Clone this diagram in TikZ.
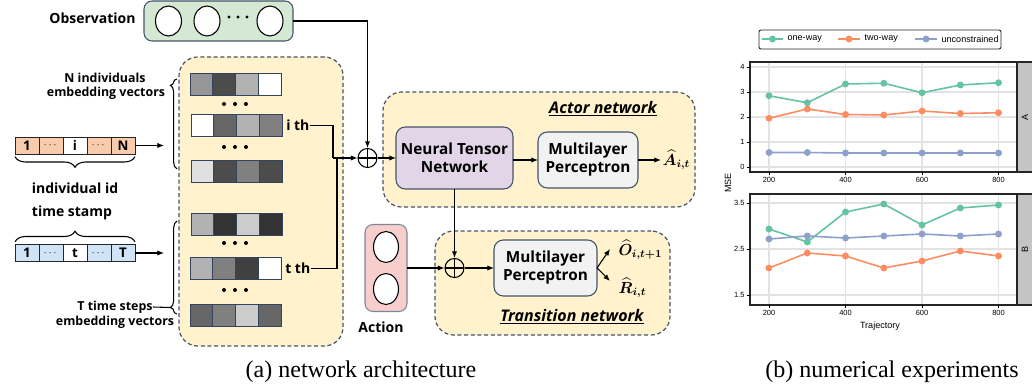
\documentclass[tikz,border=0pt]{standalone}
\usepackage{fontspec}
\usepackage{amsmath}
\usepackage{bm}
\setmainfont{Liberation Serif}
\setsansfont{Open Sans}
\newfontfamily\plotfont{Liberation Sans}
\usetikzlibrary{shapes.geometric,decorations.pathreplacing,arrows.meta}
\definecolor{yel}{HTML}{FFF2CC}
\definecolor{dashc}{HTML}{44546A}
\definecolor{obsg}{HTML}{D5E8D4}
\definecolor{purp}{HTML}{E1D5E7}
\definecolor{mlpg}{HTML}{F2F2F2}
\definecolor{pinkc}{HTML}{F8CECC}
\definecolor{idor}{HTML}{F8CBAD}
\definecolor{tsblue}{HTML}{D0E4F7}
\definecolor{cellc}{HTML}{34435E}
\definecolor{gC}{HTML}{66C2A5}
\definecolor{oC}{HTML}{FC8D62}
\definecolor{bC}{HTML}{8DA0CB}
\definecolor{gridc}{HTML}{E3E3E3}
\definecolor{stripc}{HTML}{C4C4C4}
\newcommand{\embrow}[4]{\foreach \c [count=\k] in {#4}{\node[cell, fill=\c, anchor=north west] (#1-\k) at ({#2+(\k-1)*22.75},#3) {};}}
\newcommand{\smdots}{{\fontsize{7}{8}\selectfont\mdseries $\cdots$}}
\begin{document}
\begin{tikzpicture}[x=0.75pt,y=-0.75pt, font=\sffamily\bfseries,
  px/.style 2 args={minimum width=#1*0.75pt, minimum height=#2*0.75pt, inner sep=0pt, outer sep=0pt},
  dbox/.style={draw=dashc, dash pattern=on 3pt off 2pt, line width=0.9pt, fill=yel, rounded corners=14pt},
  sbox/.style={draw=dashc, line width=0.8pt, rounded corners=7pt, align=center, font=\sffamily\bfseries\fontsize{11.5}{13.5}\selectfont},
  ell/.style={ellipse, draw=black, fill=white, line width=0.8pt},
  cell/.style={draw=cellc, line width=0.6pt, px={22.75}{22.5}},
  idc/.style={draw=black!85, line width=0.7pt, px={24}{17}, font=\sffamily\bfseries\fontsize{10}{12}\selectfont},
  arr/.style={-{Latex[length=5pt,width=4pt]}, line width=0.8pt},
  ln/.style={line width=0.8pt},
  lab/.style={font=\sffamily\bfseries\fontsize{10.5}{12}\selectfont, inner sep=0pt},
  slab/.style={font=\sffamily\bfseries\fontsize{9.3}{11}\selectfont, inner sep=0pt, align=center},
  netlab/.style={font=\sffamily\bfseries\itshape\fontsize{12}{14}\selectfont, inner sep=1pt},
  oplus/.style={circle, draw, line width=0.8pt, minimum size=19*0.75pt, inner sep=0pt,
    path picture={\draw[line width=0.8pt] (path picture bounding box.north) -- (path picture bounding box.south) (path picture bounding box.west) -- (path picture bounding box.east);}},
  gridl/.style={draw=gridc, line width=0.8pt},
  tk/.style={font=\plotfont\mdseries\fontsize{5.6}{6.5}\selectfont, inner sep=1pt},
  pl/.style={font=\plotfont\mdseries\fontsize{6.8}{8}\selectfont, inner sep=1pt},
  serl/.style={line width=1.2pt}
]
\useasboundingbox (0,0) rectangle (1032,388);

% ---------- containers ----------
\node[dbox, px={164}{289}] (emb) at (261,201.5) {};
\node[dbox, px={312}{115}] (actor) at (539,149.5) {};
\node[dbox, px={235}{104}] (trans) at (552.5,283) {};
\node[draw=dashc, line width=0.8pt, fill=obsg, rounded corners=6pt, px={149}{40}] (obs) at (218.5,21) {};
\node[draw=dashc!70, line width=0.8pt, fill=pinkc, rounded corners=6pt, px={42}{87}] (action) at (386,268) {};

% ---------- observation ----------
\node[lab] (obslab) at (92.5,18) {Observation};
\node[ell, px={26}{30}] (o1) at (168.5,21) {};
\node[ell, px={26}{30}] (o2) at (207,21) {};
\node[ell, px={26}{30}] (o3) at (270,21) {};
\foreach \dx in {-9,0,9} \fill ({238+\dx},17) circle (1.3pt);

% ---------- action ----------
\node[ell, px={25}{31}] (a1) at (386,247) {};
\node[ell, px={25}{31}] (a2) at (386,289) {};
\node[lab] (actlab) at (381,327) {Action};

% ---------- embedding vectors ----------
\embrow{r1}{190}{73}{black!41,black!70,black!30,white}
\embrow{r2}{191}{114}{white,black!60,black!30,black!50}
\embrow{r3}{191}{160}{black!12,black!70,black!50,black!70}
\embrow{r4}{191}{213}{black!30,black!80,black!20,black!80}
\embrow{r5}{190}{257}{black!30,black!50,black!75,white}
\embrow{r6}{190}{304}{black!60,black!50,black!20,black!60}
\foreach \yy in {104,147,243,290} \foreach \dx in {-11,0,11} \fill ({235+\dx},\yy) circle (1.5pt);
\node[lab, anchor=west, xshift=3pt] (ith) at (r2-4.east) {i th};
\node[lab, anchor=west, xshift=3pt] (tth) at (r5-4.east) {t th};

% ---------- individual id ----------
\node[idc, fill=idor] (id1) at (27,145.5) {1};
\node[idc, fill=idor] (id2) at (51,145.5) {\smdots};
\node[idc, fill=white] (id3) at (75,145.5) {i};
\node[idc, fill=idor] (id4) at (99,145.5) {\smdots};
\node[idc, fill=idor] (id5) at (123,145.5) {N};
\coordinate (idtip) at (164,145.5);
\draw[arr] (id5.east) -- (idtip);
\draw[ln, decorate, decoration={brace, amplitude=8pt}] ([yshift=-2pt]id5.south east) -- ([yshift=-2pt]id1.south west);
\node[lab] (idlab) at (75,188) {individual id};

% ---------- time stamp ----------
\node[lab] (tslab) at (72,213) {time stamp};
\node[idc, fill=tsblue] (ts1) at (27,253) {1};
\node[idc, fill=tsblue] (ts2) at (51,253) {\smdots};
\node[idc, fill=white] (ts3) at (75,253) {t};
\node[idc, fill=tsblue] (ts4) at (99,253) {\smdots};
\node[idc, fill=tsblue] (ts5) at (123,253) {T};
\coordinate (tstip) at (164,253);
\draw[arr] (ts5.east) -- (tstip);
\draw[ln, decorate, decoration={brace, amplitude=8pt}] ([yshift=2pt]ts1.north west) -- ([yshift=2pt]ts5.north east);

% ---------- side braces ----------
\node[slab] (nlab1) at (105,78) {N individuals};
\node[slab] (nlab2) at (106,93) {embedding vectors};
\coordinate (nb1) at (177,169);
\coordinate (nb2) at (177,79);
\draw[ln, decorate, decoration={brace, amplitude=5pt, aspect=0.93}] (nb1) -- (nb2);
\node[slab] (tlab1) at (115,307) {T time steps};
\node[slab] (tlab2) at (115,322) {embedding vectors};
\coordinate (tb1) at (177,314);
\coordinate (tb2) at (177,221);
\coordinate (ttip) at (170,307.5);
\draw[ln, decorate, decoration={brace, amplitude=5pt, aspect=0.07}] (tb1) -- (tb2);
\draw[ln] (tlab1.east) -- (ttip);

% ---------- actor network ----------
\node[oplus] (op1) at (367.5,158) {};
\node[sbox, fill=purp, px={117}{62}] (ntn) at (454.5,158) {Neural Tensor\\Network};
\node[sbox, fill=mlpg, px={100}{56}] (mlp1) at (588,160) {Multilayer\\Perceptron};
\node[netlab] (actorlab) at (603,109) {\underline{Actor network}};
\node[font=\fontsize{12}{14}\selectfont, anchor=west, inner sep=1pt] (ahat) at (661,160) {$\bm{\widehat{A}_{i,t}}$};

% ---------- transition network ----------
\node[oplus] (op2) at (454.5,268) {};
\node[sbox, fill=mlpg, px={103}{56}] (mlp2) at (545.5,268) {Multilayer\\Perceptron};
\node[netlab] (translab) at (572,317) {\underline{Transition network}};
\node[font=\fontsize{12}{14}\selectfont, anchor=west, inner sep=1pt] (ohat) at (617,250) {$\bm{\widehat{O}_{i,t+1}}$};
\node[font=\fontsize{12}{14}\selectfont, anchor=west, inner sep=1pt] (rhat) at (617,288) {$\bm{\widehat{R}_{i,t}}$};
\coordinate (otip) at (610,249);
\coordinate (rtip) at (610,281);

% ---------- connectors ----------
\coordinate (c1) at (333,158);
\coordinate (c2) at (337,158);
\draw[ln] (obs.east) -| (367.5,140);
\draw[arr] (367.5,140) -- (op1.north);
\draw[ln] (ith.east) -| (c1);
\draw[arr] (c1) -- (op1.west);
\draw[ln] (tth.east) -| (c2);
\draw[arr] (op1.east) -- (ntn.west);
\draw[arr] (ntn.east |- mlp1.west) -- (mlp1.west);
\draw[arr] (mlp1.east) -- (ahat.west);
\draw[arr] (ntn.south) -- (op2.north);
\draw[arr] (action.east) -- (op2.west);
\draw[arr] (op2.east) -- (mlp2.west);
\draw[arr] (mlp2.east) -- (otip);
\draw[arr] (mlp2.east) -- (rtip);

% ---------- plot: legend ----------
\draw[line width=0.7pt, draw=black!85, rounded corners=1.5pt] (759,30) rectangle (1001,49);
\draw[serl, gC] (762,39) -- (783,39); \fill[gC] (772.5,39) circle (2.6pt);
\node[pl, anchor=west] at (786,39) {one-way};
\draw[serl, oC] (838,39) -- (860,39); \fill[oC] (849,39) circle (2.6pt);
\node[pl, anchor=west] at (863,39) {two-way};
\draw[serl, bC] (915,39) -- (937,39); \fill[bC] (926,39) circle (2.6pt);
\node[pl, anchor=west] at (940,39) {unconstrained};

% ---------- panel A ----------
\foreach \yy in {67,92,117,142,167} \draw[gridl] (750,\yy) -- (1017,\yy);
\foreach \xx in {769,845.5,922,998.5} \draw[gridl] (\xx,62) -- (\xx,172);
\draw[serl, gC] plot coordinates {(769,95.75) (807.3,102.75) (845.5,84) (883.8,83.25) (922,92.75) (960.3,85) (998.5,82.75)};
\draw[serl, oC] plot coordinates {(769,118.25) (807.3,109) (845.5,114.5) (883.8,115) (922,111) (960.3,113.5) (998.5,112.75)};
\draw[serl, bC] plot coordinates {(769,152.5) (807.3,152.5) (845.5,153) (883.8,153) (922,153) (960.3,153) (998.5,153)};
\foreach \xx/\yy in {769/95.75,807.3/102.75,845.5/84,883.8/83.25,922/92.75,960.3/85,998.5/82.75} \fill[gC] (\xx,\yy) circle (2.6pt);
\foreach \xx/\yy in {769/118.25,807.3/109,845.5/114.5,883.8/115,922/111,960.3/113.5,998.5/112.75} \fill[oC] (\xx,\yy) circle (2.6pt);
\foreach \xx/\yy in {769/152.5,807.3/152.5,845.5/153,883.8/153,922/153,960.3/153,998.5/153} \fill[bC] (\xx,\yy) circle (2.6pt);
\draw[line width=0.8pt, draw=black!85] (750,62) rectangle (1017,172);
\draw[line width=0.8pt, draw=black!85, fill=stripc] (1017,62) rectangle (1034,172);
\node[pl, rotate=90] at (1025,117) {A};
\foreach \yy/\lb in {67/4,92/3,117/2,142/1,167/0} {\draw[line width=0.5pt] (747,\yy) -- (750,\yy); \node[tk, anchor=east] at (746,\yy) {\lb};}
\foreach \xx/\lb in {769/200,845.5/400,922/600,998.5/800} {\draw[line width=0.5pt] (\xx,172) -- (\xx,175); \node[tk, anchor=north] at (\xx,175.5) {\lb};}

% ---------- panel B ----------
\foreach \yy in {203,249,295} \draw[gridl] (750,\yy) -- (1017,\yy);
\foreach \xx in {769,845.5,922,998.5} \draw[gridl] (\xx,194) -- (\xx,305);
\draw[serl, gC] plot coordinates {(769,229) (807.3,242) (845.5,212) (883.8,204) (922,225) (960.3,208) (998.5,205)};
\draw[serl, bC] plot coordinates {(769,239) (807.3,236) (845.5,238) (883.8,236) (922,234) (960.3,236) (998.5,234)};
\draw[serl, oC] plot coordinates {(769,268) (807.3,253) (845.5,256) (883.8,268) (922,261) (960.3,251) (998.5,256)};
\foreach \xx/\yy in {769/229,807.3/242,845.5/212,883.8/204,922/225,960.3/208,998.5/205} \fill[gC] (\xx,\yy) circle (2.6pt);
\foreach \xx/\yy in {769/239,807.3/236,845.5/238,883.8/236,922/234,960.3/236,998.5/234} \fill[bC] (\xx,\yy) circle (2.6pt);
\foreach \xx/\yy in {769/268,807.3/253,845.5/256,883.8/268,922/261,960.3/251,998.5/256} \fill[oC] (\xx,\yy) circle (2.6pt);
\draw[line width=0.8pt, draw=black!85] (750,194) rectangle (1017,305);
\draw[line width=0.8pt, draw=black!85, fill=stripc] (1017,194) rectangle (1034,305);
\node[pl, rotate=90] at (1025,249) {B};
\foreach \yy/\lb in {203/3.5,249/2.5,295/1.5} {\draw[line width=0.5pt] (747,\yy) -- (750,\yy); \node[tk, anchor=east] at (746,\yy) {\lb};}
\foreach \xx/\lb in {769/200,845.5/400,922/600,998.5/800} {\draw[line width=0.5pt] (\xx,305) -- (\xx,308); \node[tk, anchor=north] at (\xx,308.5) {\lb};}
\node[pl] at (880,326) {Trajectory};
\node[pl, rotate=90] at (728,183) {MSE};

% ---------- captions ----------
\node[font=\rmfamily\mdseries\fontsize{18}{20}\selectfont] (capa) at (361,372) {(a)~network architecture};
\node[font=\rmfamily\mdseries\fontsize{18}{20}\selectfont] (capb) at (892,372) {(b)~numerical experiments};
\end{tikzpicture}
\end{document}
